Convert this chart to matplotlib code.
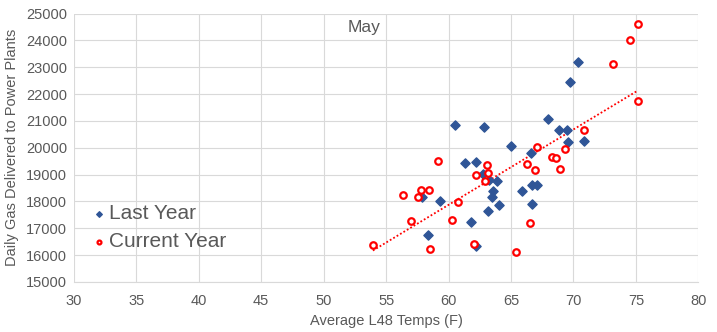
import numpy as np
import matplotlib
matplotlib.use('Agg')
import matplotlib.pyplot as plt

# Last Year (blue diamonds)
last_x = [70.35, 69.73, 67.95, 60.48, 62.8, 68.83, 69.52, 69.6, 70.82, 64.99,
          66.58, 61.28, 62.21, 62.75, 63.22, 63.9, 63.55, 63.47, 65.86, 66.72,
          67.12, 57.9, 59.34, 64.06, 66.72, 63.15, 61.76, 58.35, 62.21]
last_y = [23211, 22443, 21075, 20840, 20777, 20677, 20677, 20207, 20244, 20080,
          19819, 19424, 19484, 19025, 18801, 18776, 18392, 18180, 18381, 18604,
          18604, 18168, 18030, 17859, 17896, 17657, 17236, 16752, 16353]

# Current Year (red open circles)
cur_x = [75.15, 74.56, 73.17, 75.15, 70.85, 67.12, 69.36, 68.26, 68.61, 68.9,
         66.26, 66.9, 59.12, 63.07, 62.21, 63.12, 62.88, 56.37, 57.81, 58.45,
         57.55, 60.74, 57.0, 60.24, 66.5, 53.94, 62.06, 58.5, 65.38]
cur_y = [24616, 24031, 23136, 21757, 20650, 20032, 19946, 19659, 19611, 19212,
         19387, 19163, 19510, 19350, 18988, 19063, 18765, 18231, 18418, 18418,
         18168, 17982, 17262, 17322, 17210, 16390, 16405, 16219, 16130]

# trendline end points
trend_x = [53.94, 75.15]
trend_y = [16167, 22130]

gray = '#595959'
plt.rcParams['font.family'] = ['Liberation Sans', 'DejaVu Sans']

fig = plt.figure(figsize=(7.17, 3.32), dpi=100)
ax = fig.add_axes([0.103, 0.151, 0.871, 0.808])

ax.scatter(last_x, last_y, marker='D', s=22, color='#2F5597', label='Last Year', zorder=3)
ax.scatter(cur_x, cur_y, marker='o', s=22, facecolor='white', edgecolor='#FF0000',
           linewidth=1.6, label='Current Year', zorder=4)
ax.plot(trend_x, trend_y, color='#FF0000', linestyle=(0, (1, 1.2)), linewidth=1.3, zorder=2)

ax.set_xlim(30, 80)
ax.set_ylim(15000, 25000)
ax.set_xticks(np.arange(30, 81, 5))
ax.set_yticks(np.arange(15000, 25001, 1000))
ax.grid(True, color='#D9D9D9', linewidth=0.8)
ax.set_axisbelow(True)
for s in ['top', 'right', 'left']:
    ax.spines[s].set_visible(False)
ax.spines['bottom'].set_color('#D9D9D9')
ax.tick_params(axis='x', length=0, colors=gray, labelsize=10.5, pad=9)
ax.tick_params(axis='y', length=0, colors=gray, labelsize=10.5, pad=5)

ax.set_xlabel('Average L48 Temps (F)', color=gray, fontsize=10.5, labelpad=4)
ax.set_ylabel('Daily Gas Delivered to Power Plants', color=gray, fontsize=10.5, labelpad=5)

ax.text(0.465, 0.95, 'May', transform=ax.transAxes, color=gray, fontsize=12.5,
        ha='center', va='center')

leg = ax.legend(loc='lower left', bbox_to_anchor=(0.0, 0.045), frameon=False,
                fontsize=15, handletextpad=0.2, handlelength=0.6, markerscale=0.6,
                labelspacing=0.42, borderaxespad=0.5)
for t in leg.get_texts():
    t.set_color(gray)

fig.savefig('out.png', dpi=100)
